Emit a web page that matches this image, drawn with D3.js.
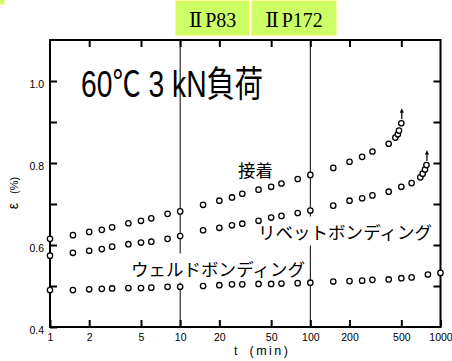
<!DOCTYPE html>
<html>
<head>
<meta charset="utf-8">
<script src="https://cdn.jsdelivr.net/npm/d3@7"></script>
<style>
  body { margin: 0; background: #fff; }
  svg { display: block; }
</style>
</head>
<body>
<script>
// Size of the picture
var width = 452;
var height = 361;

// Creep strain (%) against time (min)
var adhesiveT = [1, 1.5, 2, 2.5, 3, 4, 5, 6, 8, 10, 15, 20, 25, 30, 40, 50, 60, 80, 100, 150, 200, 250, 300, 400, 450, 470, 480, 500];
var adhesiveE = [0.615, 0.624, 0.632, 0.637, 0.643, 0.653, 0.659, 0.665, 0.676, 0.682, 0.698, 0.708, 0.716, 0.725, 0.735, 0.742, 0.750, 0.761, 0.771, 0.788, 0.803, 0.815, 0.828, 0.847, 0.862, 0.870, 0.879, 0.897];

var rivetT = [1, 1.5, 2, 2.5, 3, 4, 5, 6, 8, 10, 15, 20, 25, 30, 40, 50, 60, 80, 100, 150, 200, 250, 300, 400, 500, 600, 700, 730, 760, 780];
var rivetE = [0.574, 0.581, 0.586, 0.590, 0.596, 0.602, 0.606, 0.608, 0.615, 0.622, 0.636, 0.642, 0.648, 0.652, 0.659, 0.667, 0.671, 0.678, 0.684, 0.696, 0.708, 0.714, 0.721, 0.730, 0.742, 0.751, 0.765, 0.774, 0.784, 0.795];

var weldT = [1, 1.5, 2, 2.5, 3, 4, 5, 6, 8, 10, 15, 20, 25, 30, 40, 50, 60, 80, 100, 150, 200, 250, 300, 400, 500, 600, 800, 1000];
var weldE = [0.490, 0.490, 0.492, 0.493, 0.494, 0.495, 0.495, 0.496, 0.498, 0.498, 0.500, 0.502, 0.504, 0.504, 0.505, 0.505, 0.506, 0.507, 0.508, 0.511, 0.512, 0.513, 0.515, 0.516, 0.519, 0.521, 0.528, 0.532];

// Tick values and labels
var xTicks = [1, 2, 5, 10, 20, 50, 100, 200, 500, 1000];
var xInnerTicks = [2, 5, 10, 20, 50, 100, 200, 500];
var yTicks = [0.4, 0.5, 0.6, 0.7, 0.8, 0.9, 1.0];
var yLabels = [0.4, 0.6, 0.8, 1.0];
var refLines = [10, 100];
var tags = ["P83", "P172"];

var svg = d3.select("body")
            .append("svg")
            .attr("width", width)
            .attr("height", height);

// Scales: log time, linear strain
var x = d3.scaleLog().domain([1, 1000]).range([50, 440.5]);
var y = d3.scaleLinear().domain([0.4, 1.1]).range([327, 40]);

// Small yellow corner mark and the two page tags
svg.append("rect")
   .attr("x", -10).attr("y", -10).attr("width", 14).attr("height", 14)
   .attr("fill", "#ccff66").attr("stroke", "#f2f24a");

var tagX = [176, 252];
var tagW = [73, 84];
var tg = svg.selectAll("g.tag")
   .data(tags)
   .enter()
   .append("g")
   .attr("class", "tag");
tg.append("rect")
  .attr("x", function(d, i) { return tagX[i]; })
  .attr("y", 1)
  .attr("width", function(d, i) { return tagW[i]; })
  .attr("height", 34)
  .attr("fill", "#ccff66")
  .attr("stroke", "#f2f24a")
  .attr("stroke-width", 1);
tg.append("text")
  .attr("x", function(d, i) { return tagX[i] + tagW[i] / 2; })
  .attr("y", 27)
  .attr("text-anchor", "middle")
  .style("font-family", "'Liberation Serif', 'DejaVu Serif', serif")
  .style("font-size", "20px")
  .html(function(d) { return "Ⅱ<tspan dx='3'>" + d + "</tspan>"; });

// Reference lines at 10 and 100 min
svg.selectAll("line.ref")
   .data(refLines)
   .enter()
   .append("line")
   .attr("class", "ref")
   .attr("x1", function(d) { return x(d); })
   .attr("x2", function(d) { return x(d); })
   .attr("y1", y(1.1))
   .attr("y2", y(0.4))
   .attr("stroke", "#000")
   .attr("stroke-width", 1);

// Axes with inward ticks
var axisFont = "'Liberation Sans', Arial, sans-serif";

var axBottom = svg.append("g")
   .attr("transform", "translate(0," + y(0.4) + ")")
   .call(d3.axisBottom(x).tickValues(xTicks).tickSize(-7).tickPadding(7).tickFormat(d3.format("d")));
var axTop = svg.append("g")
   .attr("transform", "translate(0," + y(1.1) + ")")
   .call(d3.axisTop(x).tickValues(xInnerTicks).tickSize(-7).tickFormat(""));
var axLeft = svg.append("g")
   .attr("transform", "translate(" + x(1) + ",0)")
   .call(d3.axisLeft(y).tickValues(yTicks).tickSize(-7).tickPadding(6)
          .tickFormat(function(d) { return yLabels.some(function(v) { return Math.abs(v - d) < 1e-6; }) ? d3.format(".1f")(d) : ""; }));
var axRight = svg.append("g")
   .attr("transform", "translate(" + x(1000) + ",0)")
   .call(d3.axisRight(y).tickValues(yTicks.slice(1)).tickSize(-7).tickFormat(""));

[axBottom, axTop, axLeft, axRight].forEach(function(a) {
  a.select(".domain").remove();
  a.selectAll(".tick line").attr("stroke", "#000").attr("stroke-width", 2);
  a.selectAll(".tick text")
   .attr("fill", "#000")
   .style("font-family", axisFont)
   .style("font-size", "10.5px");
});
axLeft.selectAll(".tick text").attr("dy", "0.62em");

// Frame
svg.append("rect")
   .attr("x", x(1)).attr("y", y(1.1))
   .attr("width", x(1000) - x(1)).attr("height", y(0.4) - y(1.1))
   .attr("fill", "none")
   .attr("stroke", "#000")
   .attr("stroke-width", 2);

// Axis titles
svg.append("text")
   .attr("transform", "translate(18,193) rotate(-90)")
   .attr("text-anchor", "middle")
   .style("font-family", axisFont)
   .style("font-size", "11px")
   .html("<tspan style='font-size:14px'>ε</tspan><tspan dx='9'>(%)</tspan>");

svg.append("text")
   .attr("x", 234).attr("y", 355)
   .style("font-family", axisFont)
   .style("font-size", "12.5px")
   .html("t<tspan dx='12' letter-spacing='2.5'>(min)</tspan>");

// Chart title
svg.append("text")
   .attr("x", 81).attr("y", 96.5)
   .attr("textLength", 182)
   .attr("lengthAdjust", "spacingAndGlyphs")
   .style("font-family", "'Liberation Sans', 'Noto Sans CJK JP', sans-serif")
   .style("font-size", "36px")
   .text("60℃ 3 kN負荷");

// Series labels, with a white backing so the reference lines break behind them
var jpFont = "'Noto Sans CJK JP', sans-serif";
var labels = [
  { text: "接着", x: 238, y: 176.5, back: false },
  { text: "リベットボンディング", x: 258, y: 238.5, back: true },
  { text: "ウェルドボンディング", x: 131, y: 275.5, back: true }
];
var lg = svg.append("g");
labels.forEach(function(l) {
  var t = lg.append("text")
    .attr("x", l.x).attr("y", l.y)
    .attr("textLength", l.text.length * 17.4)
    .attr("lengthAdjust", "spacingAndGlyphs")
    .style("font-family", jpFont)
    .style("font-size", "17.5px")
    .text(l.text);
  if (l.back) {
    var b = t.node().getBBox();
    lg.insert("rect", "text")
      .attr("x", b.x - 1).attr("y", b.y - 2)
      .attr("width", b.width + 2).attr("height", b.height + 4)
      .attr("fill", "#fff");
  }
});

// Data points: open circles
var series = [
  { t: adhesiveT, e: adhesiveE, arrow: true },
  { t: rivetT, e: rivetE, arrow: true },
  { t: weldT, e: weldE, arrow: false }
];
series.forEach(function(s) {
  svg.append("g")
     .selectAll("circle")
     .data(d3.zip(s.t, s.e))
     .enter()
     .append("circle")
     .attr("cx", function(d) { return x(d[0]); })
     .attr("cy", function(d) { return y(d[1]); })
     .attr("r", 2.7)
     .attr("fill", "#fff")
     .attr("stroke", "#000")
     .attr("stroke-width", 1.3);

  // Upward arrow above the final (ruptured) point
  if (s.arrow) {
    var lt = s.t[s.t.length - 1], le = s.e[s.e.length - 1];
    var ax = x(lt) + 0.5, ay = y(le) - 4;
    svg.append("line")
       .attr("x1", ax).attr("x2", ax)
       .attr("y1", ay).attr("y2", ay - 8)
       .attr("stroke", "#000").attr("stroke-width", 1.2);
    svg.append("path")
       .attr("d", "M" + (ax - 2) + "," + (ay - 6.5) + "L" + ax + "," + (ay - 11) + "L" + (ax + 2) + "," + (ay - 6.5) + "Z")
       .attr("fill", "#000");
  }
});
</script>
</body>
</html>
